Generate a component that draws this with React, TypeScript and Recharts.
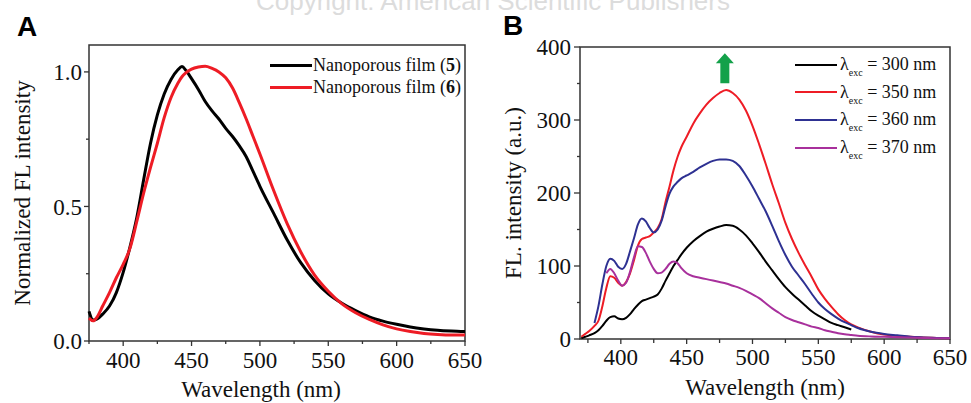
import { LineChart, Line, XAxis, YAxis, Legend, Label, ReferenceArea, ReferenceDot } from 'recharts';

const SERIF = "'Liberation Serif', 'DejaVu Serif', serif";
const SANS = "'Liberation Sans', Arial, sans-serif";
const AXIS = '#333';

// Panel A: normalized FL spectra of the two films
const wavelengthsA = [375, 378, 381, 385, 390, 395, 400, 405, 410, 415, 420, 425, 430, 435, 440, 443, 446, 450, 455, 460, 465, 470, 475, 480, 485, 490, 495, 500, 510, 520, 530, 540, 550, 560, 570, 580, 590, 600, 610, 620, 630, 640, 650];
const film5 = [0.11, 0.078, 0.082, 0.1, 0.13, 0.18, 0.255, 0.35, 0.46, 0.6, 0.735, 0.84, 0.918, 0.972, 1.008, 1.02, 1.005, 0.975, 0.935, 0.89, 0.855, 0.825, 0.79, 0.76, 0.725, 0.685, 0.63, 0.575, 0.475, 0.375, 0.29, 0.225, 0.175, 0.14, 0.113, 0.09, 0.074, 0.062, 0.052, 0.045, 0.04, 0.037, 0.035];
const film6 = [0.085, 0.075, 0.09, 0.13, 0.18, 0.235, 0.285, 0.345, 0.445, 0.55, 0.645, 0.735, 0.83, 0.905, 0.958, 0.982, 0.997, 1.01, 1.018, 1.021, 1.013, 1.0, 0.978, 0.94, 0.885, 0.825, 0.76, 0.695, 0.56, 0.435, 0.33, 0.245, 0.185, 0.138, 0.105, 0.08, 0.06, 0.045, 0.035, 0.028, 0.024, 0.022, 0.022];
const xTicksA = [375, 400, 425, 450, 475, 500, 525, 550, 575, 600, 625, 650];
const xMajorA = [400, 450, 500, 550, 600, 650];
const yTicksA = [0, 0.25, 0.5, 0.75, 1.0];
const yMajorA = [0, 0.5, 1.0];

// Panel B: FL spectra at different excitation wavelengths
const wavelengthsB = [370, 373, 376, 380, 383, 386, 389, 392, 395, 398, 401, 404, 407, 410, 413, 416, 419, 422, 425, 428, 431, 434, 437, 440, 443, 446, 450, 455, 460, 465, 470, 475, 480, 485, 490, 495, 500, 505, 510, 515, 520, 525, 530, 535, 540, 545, 550, 555, 560, 565, 570, 575, 580, 590, 600, 610, 620, 630, 640, 650];
const exc300 = [1, 3, 5, 8, 12, 18, 25, 30, 31, 28, 27, 29, 34, 41, 47, 52, 54, 56, 58, 61, 69, 80, 90, 100, 108, 116, 125, 134, 141, 147, 151, 154, 156, 155, 150, 142, 131, 119, 106, 94, 82, 71, 62, 54, 46, 38, 32, 27, 22, 19, 16, 13, null, null, null, null, null, null, null, null];
const exc350 = [3, 7, 11, 18, 25, 45, 70, 86, 84, 77, 73, 78, 90, 108, 128, 137, 139, 141, 146, 152, 164, 188, 209, 231, 249, 263, 277, 295, 309, 321, 330, 337, 341, 337, 328, 313, 292, 267, 240, 212, 186, 159, 137, 118, 101, 85, 68, 55, 44, 34, 26, 20, 16, 10, 6, 4, 3, 2, 1.5, 1];
const exc360 = [null, null, null, 22, 45, 75, 100, 110, 107, 99, 96, 103, 120, 138, 157, 165, 161, 152, 146, 150, 162, 182, 199, 209, 215, 220, 224, 229, 235, 240, 244, 246, 246, 244, 237, 224, 209, 192, 175, 155, 134, 115, 99, 87, 75, 62, 50, 41, 34, 28, 23, 19, 15, 10, 7, 5, 3, 2, 1.5, 1];
const exc370 = [null, null, null, null, null, null, 90, 96, 90, 80, 73, 77, 92, 112, 127, 126, 118, 106, 96, 90, 91, 96, 103, 106, 104, 97, 90, 86, 84, 82, 80, 78, 76, 73, 70, 66, 61, 56, 49, 42, 36, 30, 26, 23, 20, 17, 15, 12, 10, 8, 6.5, 5.5, 4.5, 3.5, 3, 2.5, 2, 1.5, 1, 1];
const xTicksB = [375, 400, 425, 450, 475, 500, 525, 550, 575, 600, 625, 650];
const xMajorB = [400, 450, 500, 550, 600, 650];
const yTicksB = [0, 50, 100, 150, 200, 250, 300, 350, 400];
const yMajorB = [0, 100, 200, 300, 400];

const dataA = wavelengthsA.map((wl, i) => ({ wl, film5: film5[i], film6: film6[i] }));
const dataB = wavelengthsB.map((wl, i) => ({
  wl,
  exc300: exc300[i],
  exc350: exc350[i],
  exc360: exc360[i],
  exc370: exc370[i],
}));

const textStyle = { fontFamily: SERIF };

function AxisTick(props: any) {
  const { x, y, payload, side, majors, format, len, minorLen, gap } = props;
  const v = payload.value;
  const isMajor = majors.includes(v);
  const l = isMajor ? len : minorLen;
  if (side === 'bottom') {
    return (
      <g>
        <line x1={x} y1={y} x2={x} y2={y + l} stroke={AXIS} strokeWidth={1.3} />
        {isMajor && (
          <text x={x} y={y + gap} textAnchor="middle" fontSize={23} fontFamily={SERIF} style={textStyle} fill="#111">
            {format(v)}
          </text>
        )}
      </g>
    );
  }
  return (
    <g>
      <line x1={x - l} y1={y} x2={x} y2={y} stroke={AXIS} strokeWidth={1.3} />
      {isMajor && (
        <text x={x - gap} y={y} dy="0.35em" textAnchor="end" fontSize={23} fontFamily={SERIF} style={textStyle} fill="#111">
          {format(v)}
        </text>
      )}
    </g>
  );
}

const legendLabelsA: Record<string, any> = {
  film5: <>Nanoporous film (<b>5</b>)</>,
  film6: <>Nanoporous film (<b>6</b>)</>,
};

const legendLabelsB: Record<string, string> = {
  exc300: '300',
  exc350: '350',
  exc360: '360',
  exc370: '370',
};

function LegendA({ payload }: any) {
  return (
    <div style={{ fontFamily: SERIF, fontSize: 18, color: '#111' }}>
      {(payload || []).map((p: any) => (
        <div key={p.dataKey} style={{ display: 'flex', alignItems: 'center', height: 22, whiteSpace: 'nowrap' }}>
          <span style={{ display: 'inline-block', width: 42, height: 3, background: p.color, marginRight: 1 }} />
          <span>{legendLabelsA[p.dataKey]}</span>
        </div>
      ))}
    </div>
  );
}

function LegendB({ payload }: any) {
  return (
    <div style={{ fontFamily: SERIF, fontSize: 18, color: '#111' }}>
      {(payload || []).map((p: any) => (
        <div key={p.dataKey} style={{ display: 'flex', alignItems: 'center', height: 27.6, whiteSpace: 'nowrap' }}>
          <span style={{ display: 'inline-block', width: 42, height: 2, background: p.color, marginRight: 3 }} />
          <span style={{ fontFamily: SERIF }}>
            λ<sub style={{ fontSize: 10, verticalAlign: -6, lineHeight: 0 }}>exc</sub> = {legendLabelsB[p.dataKey]} nm
          </span>
        </div>
      ))}
    </div>
  );
}

function Arrow(props: any) {
  const { cx, cy } = props;
  const pts = [
    [cx, cy - 15],
    [cx + 9, cy - 5],
    [cx + 4.5, cy - 5],
    [cx + 4.5, cy + 15],
    [cx - 4.5, cy + 15],
    [cx - 4.5, cy - 5],
    [cx - 9, cy - 5],
  ]
    .map((p) => p.join(','))
    .join(' ');
  return <polygon points={pts} fill="#13a14a" />;
}

function PanelA() {
  return (
    <LineChart width={485} height={403} data={dataA} margin={{ top: 45, right: 20, bottom: 0, left: 0 }} style={textStyle}>
      <XAxis
        dataKey="wl"
        type="number"
        domain={[375, 650]}
        ticks={xTicksA}
        interval={0}
        height={62}
        axisLine={false}
        tickLine={false}
        tickSize={0}
        tickMargin={0}
        tick={<AxisTick side="bottom" majors={xMajorA} format={(v: number) => String(v)} len={5} minorLen={3} gap={27} />}
      >
        <Label
          content={(p: any) => (
            <text x={p.viewBox.x + p.viewBox.width / 2 - 16} y={p.viewBox.y + 56} textAnchor="middle" fontSize={23} fontFamily={SERIF} style={textStyle} fill="#111">
              Wavelength (nm)
            </text>
          )}
        />
      </XAxis>
      <YAxis
        type="number"
        domain={[0, 1.1]}
        ticks={yTicksA}
        interval={0}
        width={89}
        axisLine={false}
        tickLine={false}
        tickSize={0}
        tickMargin={0}
        tick={<AxisTick side="left" majors={yMajorA} format={(v: number) => v.toFixed(1)} len={5} minorLen={3} gap={7} />}
      >
        <Label
          content={(p: any) => {
            const cx = p.viewBox.x + 22;
            const cy = p.viewBox.y + p.viewBox.height / 2;
            return (
              <text x={cx} y={cy} dy="0.35em" transform={`rotate(-90, ${cx}, ${cy})`} textAnchor="middle" fontSize={23} fontFamily={SERIF} style={textStyle} fill="#111">
                Normalized FL intensity
              </text>
            );
          }}
        />
      </YAxis>
      <ReferenceArea x1={375} x2={650} y1={0} y2={1.1} fill="none" stroke={AXIS} strokeWidth={1.5} />
      <Line dataKey="film5" name="film5" stroke="#000" strokeWidth={3} dot={false} type="monotone" isAnimationActive={false} />
      <Line dataKey="film6" name="film6" stroke="#ee1c25" strokeWidth={3} dot={false} type="monotone" isAnimationActive={false} />
      <Legend
        layout="vertical"
        align="center"
        verticalAlign="middle"
        wrapperStyle={{ left: 270, top: 54, width: 'auto' }}
        content={<LegendA />}
      />
    </LineChart>
  );
}

function PanelB() {
  return (
    <LineChart width={486} height={403} data={dataB} margin={{ top: 47, right: 21, bottom: 0, left: 0 }} style={textStyle}>
      <XAxis
        dataKey="wl"
        type="number"
        domain={[369, 650]}
        ticks={xTicksB}
        interval={0}
        height={64}
        axisLine={false}
        tickLine={false}
        tickSize={0}
        tickMargin={0}
        tick={<AxisTick side="bottom" majors={xMajorB} format={(v: number) => String(v)} len={5} minorLen={4} gap={26} />}
      >
        <Label
          content={(p: any) => (
            <text x={p.viewBox.x + p.viewBox.width / 2} y={p.viewBox.y + 56} textAnchor="middle" fontSize={23} fontFamily={SERIF} style={textStyle} fill="#111">
              Wavelength (nm)
            </text>
          )}
        />
      </XAxis>
      <YAxis
        type="number"
        domain={[0, 400]}
        ticks={yTicksB}
        interval={0}
        width={95}
        axisLine={false}
        tickLine={false}
        tickSize={0}
        tickMargin={0}
        tick={<AxisTick side="left" majors={yMajorB} format={(v: number) => String(v)} len={6} minorLen={3} gap={9} />}
      >
        <Label
          content={(p: any) => {
            const cx = p.viewBox.x + 28;
            const cy = p.viewBox.y + p.viewBox.height / 2;
            return (
              <text x={cx} y={cy} dy="0.35em" transform={`rotate(-90, ${cx}, ${cy})`} textAnchor="middle" fontSize={23} fontFamily={SERIF} style={textStyle} fill="#111">
                FL. intensity (a.u.)
              </text>
            );
          }}
        />
      </YAxis>
      <ReferenceArea x1={369} x2={650} y1={0} y2={400} fill="none" stroke={AXIS} strokeWidth={1.5} />
      <Line dataKey="exc300" name="exc300" stroke="#000" strokeWidth={2} dot={false} type="monotone" isAnimationActive={false} />
      <Line dataKey="exc350" name="exc350" stroke="#ee1c25" strokeWidth={2} dot={false} type="monotone" isAnimationActive={false} />
      <Line dataKey="exc360" name="exc360" stroke="#2e3192" strokeWidth={2} dot={false} type="monotone" isAnimationActive={false} />
      <Line dataKey="exc370" name="exc370" stroke="#a8309c" strokeWidth={2} dot={false} type="monotone" isAnimationActive={false} />
      <ReferenceDot x={479} y={371} r={0} shape={<Arrow />} />
      <Legend
        layout="vertical"
        align="center"
        verticalAlign="middle"
        wrapperStyle={{ left: 310, top: 51, width: 'auto' }}
        content={<LegendB />}
      />
    </LineChart>
  );
}

export default function App() {
  return (
    <div style={{ position: 'absolute', left: 0, top: 0, width: 971, height: 403, background: '#fff', overflow: 'hidden', fontFamily: SERIF }}>
      <div style={{ position: 'absolute', left: 0, top: 0 }}>
        <PanelA />
      </div>
      <div style={{ position: 'absolute', left: 485, top: 0 }}>
        <PanelB />
      </div>
      <svg width={971} height={403} style={{ position: 'absolute', left: 0, top: 0, pointerEvents: 'none' }}>
        <text x={493} y={10} textAnchor="middle" fontSize={26} fontFamily={SANS} fill="#dcdcdc">
          Copyright: American Scientific Publishers
        </text>
        <text x={17} y={36} fontSize={28} fontWeight="bold" fontFamily={SANS} fill="#000">
          A
        </text>
        <text x={503} y={35} fontSize={28} fontWeight="bold" fontFamily={SANS} fill="#000">
          B
        </text>
      </svg>
    </div>
  );
}
